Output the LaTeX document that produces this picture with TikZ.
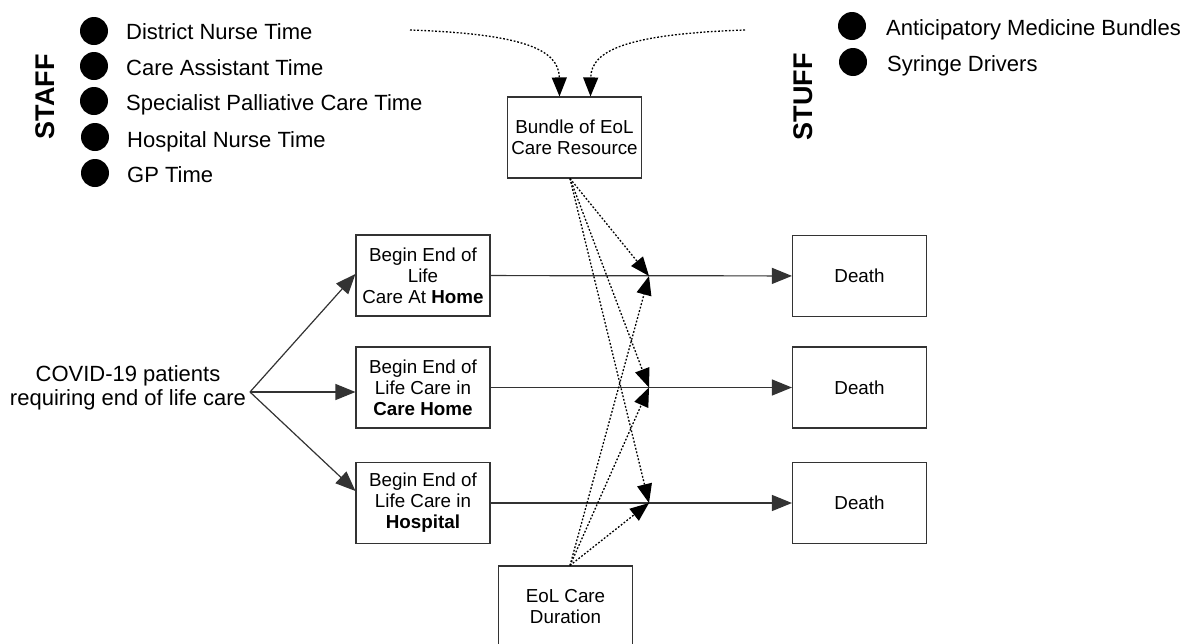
\documentclass[tikz,border=0pt]{standalone}
\usepackage{fontspec}
\setmainfont{Liberation Sans}
\usetikzlibrary{arrows.meta}

\begin{document}
\begin{tikzpicture}[x=1pt, y=-1pt,
		box/.style={draw=black!80, line width=1.1pt, minimum width=134pt, minimum height=81pt, inner sep=0pt, align=center, font=\fontsize{18.8}{21}\selectfont},
		dot/.style={circle, fill=black, minimum size=28pt, inner sep=0pt},
		item/.style={anchor=west, inner sep=0pt, text height=15.7pt, text depth=0pt, font=\fontsize{22}{24}\selectfont},
		side/.style={rotate=90, inner sep=0pt, font=\fontsize{27}{27}\selectfont\bfseries},
		flow/.style={draw=black!80, line width=1.2pt, -{Triangle[length=20pt, width=16pt]}},
		feed/.style={draw=black, line width=1.3pt, dash pattern=on 1.8pt off 1.8pt, -{Triangle[length=19pt, width=15pt]}}]
			\useasboundingbox (0,0) rectangle (1183,643);

			% resources
			\node[side] (staff) at (45, 97) {STAFF};
			\node[dot] (p1) at (94, 31) {};
			\node[dot] (p2) at (94, 66) {};
			\node[dot] (p3) at (94, 101) {};
			\node[dot] (p4) at (95, 137) {};
			\node[dot] (p5) at (95, 173) {};
			\node[item] (dn) at (126, 32) {District Nurse Time};
			\node[item] (ca) at (126, 68) {Care Assistant Time};
			\node[item] (spc) at (126, 103) {Specialist Palliative Care Time};
			\node[item] (hn) at (127, 140) {Hospital Nurse Time};
			\node[item] (gp) at (127, 175) {GP Time};

			\node[side] (stuff) at (803, 97) {STUFF};
			\node[dot] (q1) at (852, 26) {};
			\node[dot] (q2) at (853, 62) {};
			\node[item] (amb) at (886, 28) {Anticipatory Medicine Bundles};
			\node[item] (sd) at (887, 64) {Syringe Drivers};

			\node[box] (bundle) at (574.5, 137.5) {Bundle of EoL\\Care Resource};
			\node[box] (dur) at (565.5, 606.5) {EoL Care\\Duration};

			% pathways
			\node[align=center, inner sep=0pt, font=\fontsize{22}{24}\selectfont] (covid) at (128, 388) {COVID-19 patients\\requiring end of life care};
			\coordinate (fork) at (250, 392);

			\node[box] (home) at (423, 275.5) {Begin End of\\Life\\Care At \textbf{Home}};
			\node[box] (chome) at (423, 387.5) {Begin End of\\Life Care in\\\textbf{Care Home}};
			\node[box] (hosp) at (423, 503) {Begin End of\\Life Care in\\\textbf{Hospital}};

			\node[box] (d1) at (859.5, 276) {Death};
			\node[box] (d2) at (859.5, 387.5) {Death};
			\node[box] (d3) at (859.5, 503) {Death};

			\coordinate (j1) at (649, 276);
			\coordinate (j2) at (649, 387.5);
			\coordinate (j3) at (649, 503);
			\coordinate (s1) at (410, 30);
			\coordinate (s2) at (745, 30);

			\path
			(fork) edge[flow] ([yshift=1.5pt]home.west)
			(fork) edge[flow] (fork -| chome.west)
			(fork) edge[flow] ([yshift=12pt]hosp.west)
			(home) edge[flow] (d1)
			(chome) edge[flow] (d2)
			(hosp) edge[flow] (d3);

			\draw[feed] (s1) .. controls (525, 34) and (559, 50) .. ([xshift=-15pt]bundle.north);
			\draw[feed] (s2) .. controls (628, 34) and (591, 50) .. ([xshift=16pt]bundle.north);

			\path
			([xshift=-4.5pt]bundle.south) edge[feed] (j1)
			([xshift=-4.5pt]bundle.south) edge[feed] (j2)
			([xshift=-4.5pt]bundle.south) edge[feed] (j3)
			([xshift=4.5pt]dur.north) edge[feed] (j1)
			([xshift=4.5pt]dur.north) edge[feed] (j2)
			([xshift=4.5pt]dur.north) edge[feed] (j3);
		\end{tikzpicture}
\end{document}
